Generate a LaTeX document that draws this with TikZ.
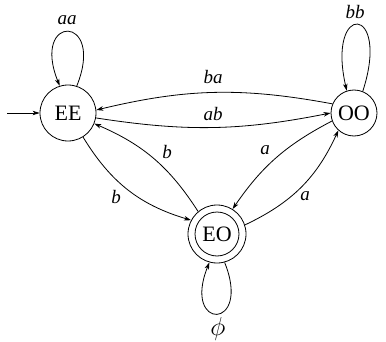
\documentclass[tikz,border=0pt]{standalone}
\usepackage{fontspec}
\setmainfont{Liberation Serif}
\usetikzlibrary{arrows.meta}
\begin{document}
\begin{tikzpicture}[x=1pt,y=1pt,
  every path/.style={line width=0.8pt},
  st/.style={circle,draw,inner sep=0pt,font=\fontsize{22}{24}\selectfont},
  arr/.style={-{Stealth[length=7pt,width=4.5pt,inset=2pt]}},
  lab/.style={font=\fontsize{19}{22}\selectfont\itshape,inner sep=0pt}]
\useasboundingbox (0,0) rectangle (386,341);
\node[st,minimum size=56pt] (EE) at (68,228) {EE};
\node[st,minimum size=46pt] (OO) at (354,228) {OO};
\node[st,minimum size=58pt] (EO) at (217,107) {EO};
\draw (EO.center) circle (22pt);
\coordinate (init) at (7,228);
\draw[arr] (init) -- (EE.180);
% loops
\draw[arr] (EE.72) .. controls +(68:78) and +(112:78) .. (EE.107);
\draw[arr] (OO.68) .. controls +(72:92) and +(103:92) .. (OO.108);
\draw[arr] (EO.-75) .. controls +(-68:74) and +(-112:74) .. (EO.-105);
% edges
\draw[arr] (OO.157) to[bend right=12] (EE.6);
\draw[arr] (EE.-10) to[bend right=10] (OO.180);
\draw[arr] (EE.-58) to[bend right=21] (EO.152);
\draw[arr] (EO.130) to[bend right=17] (EE.-22);
\draw[arr] (OO.200) to[bend right=14] (EO.58);
\draw[arr] (EO.18) to[bend right=20] (OO.228);
% labels
\node[lab] (laa) at (67,321) {aa};
\node[lab] (lbb) at (355,329) {bb};
\node[lab] (lphi) at (218,12) {\scalebox{1.5}{$\phi$}};
\node[lab] (lba) at (213,264) {ba};
\node[lab] (lab) at (213,227) {ab};
\node[lab] (lb1) at (167,189) {b};
\node[lab] (lb2) at (116,144) {b};
\node[lab] (la1) at (265,191) {a};
\node[lab] (la2) at (305,145) {a};
\end{tikzpicture}
\end{document}
